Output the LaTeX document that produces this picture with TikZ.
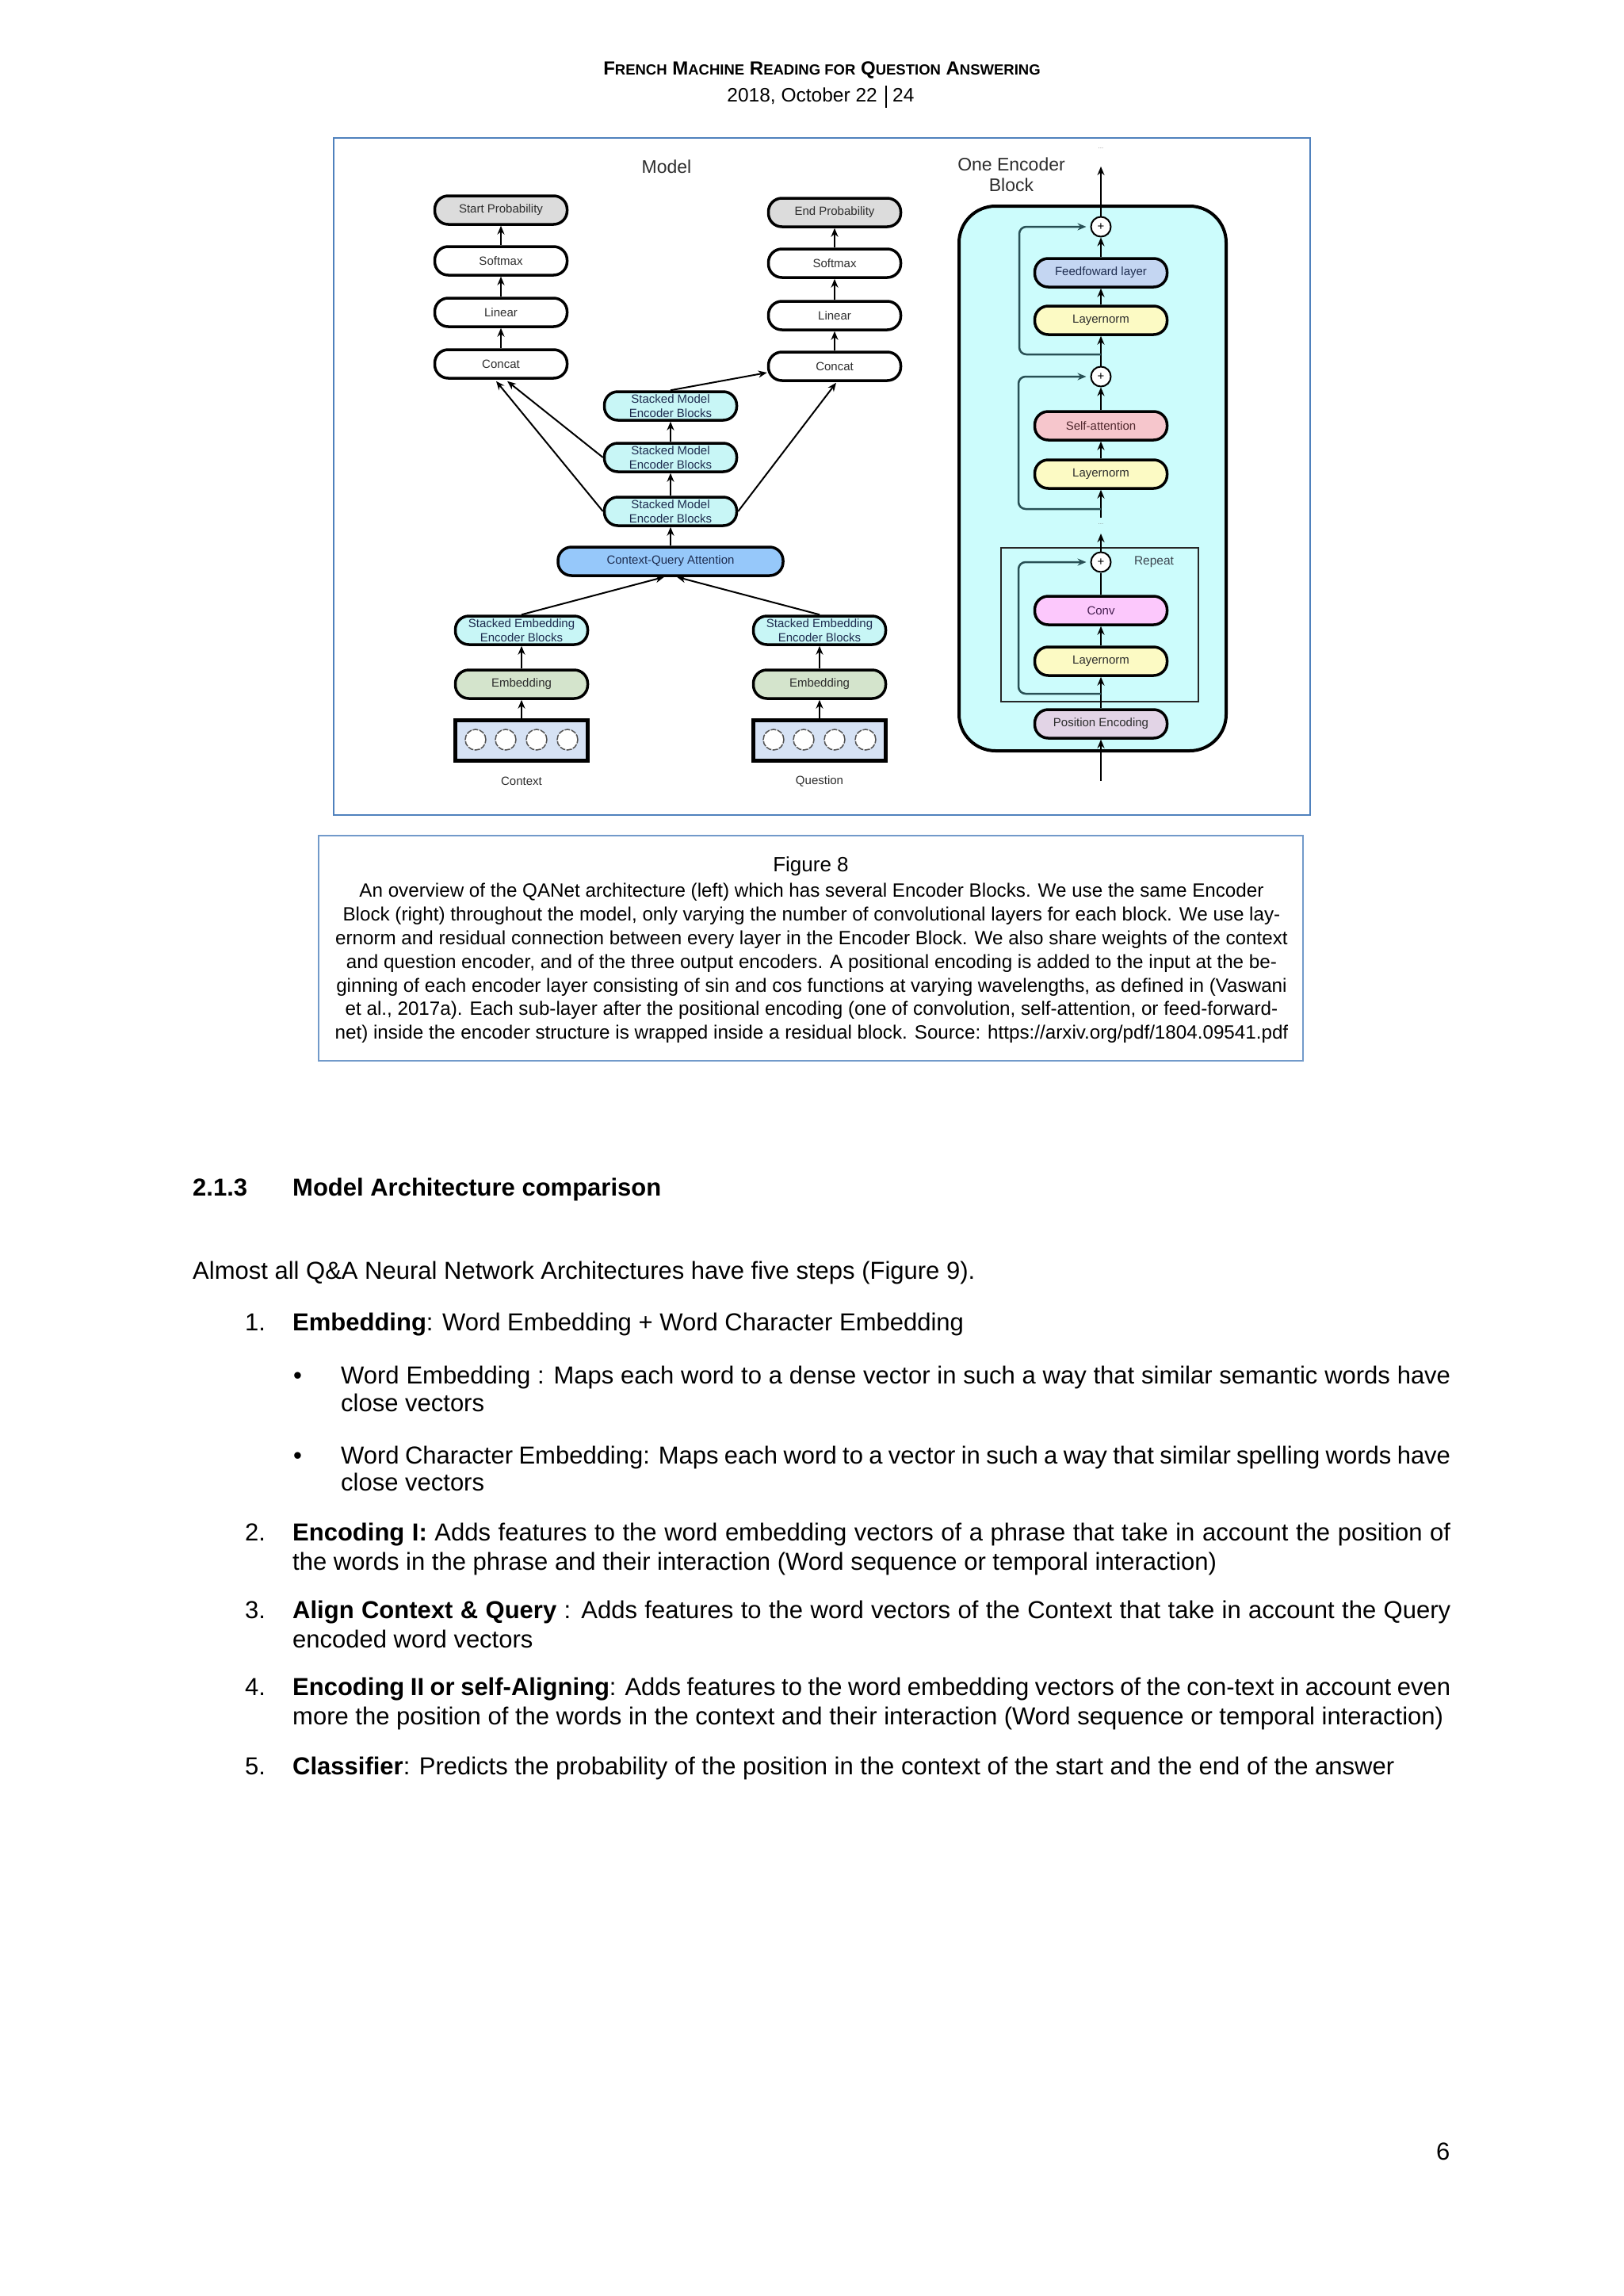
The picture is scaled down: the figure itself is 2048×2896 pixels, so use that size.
\documentclass[tikz,border=0pt]{standalone}
\usepackage{fontspec}
\setmainfont{Liberation Sans}
\usetikzlibrary{arrows.meta,calc}
\newcommand\myfs[1]{\fontsize{#1}{#1}\selectfont}
\newcommand\smcp[1]{{\myfs{18.5}#1}}
\definecolor{figblue}{RGB}{79,129,189}
\definecolor{probg}{RGB}{220,220,220}
\definecolor{cyanb}{RGB}{200,246,246}
\definecolor{cqac}{RGB}{150,200,250}
\definecolor{embc}{RGB}{212,228,204}
\definecolor{inpc}{RGB}{214,226,244}
\definecolor{blockc}{RGB}{204,252,252}
\definecolor{ffc}{RGB}{196,214,242}
\definecolor{lnc}{RGB}{252,250,196}
\definecolor{sac}{RGB}{246,198,204}
\definecolor{convc}{RGB}{252,200,252}
\definecolor{pec}{RGB}{226,212,230}
\definecolor{skipc}{RGB}{40,80,85}
\definecolor{txtc}{RGB}{45,45,45}
\definecolor{navyt}{RGB}{30,45,80}
\begin{document}
\begin{tikzpicture}[x=1pt,y=-1pt,
  blk/.style={draw=black, line width=3.5pt, rounded corners=17pt, minimum width=167pt, minimum height=36pt, inner sep=0pt, font=\myfs{15}, text=txtc, align=center},
  blk2/.style={blk, font=\fontsize{15}{18}\selectfont, text=navyt},
  arr/.style={draw=black, line width=2pt, -{Stealth[length=11pt,width=9pt]}},
  plain/.style={draw=black, line width=2pt},
  skp/.style={draw=skipc, line width=2.5pt, rounded corners=9pt, -{Stealth[length=11pt,width=9pt]}, shorten >=5pt},
  plusn/.style={circle, draw=black, line width=2pt, fill=white, minimum size=25pt, inner sep=0pt, font=\myfs{15}},
  lbl/.style={inner sep=0pt, font=\myfs{15}, text=txtc},
  inbox/.style={draw=black, line width=5pt, fill=inpc, minimum width=167pt, minimum height=51pt, inner sep=0pt},
  tok/.style={circle, draw={rgb,255:red,80;green,80;blue,80}, line width=1.5pt, dash pattern=on 7pt off 1.5pt, fill=white, minimum size=26pt, inner sep=0pt},
  body/.style={anchor=base west, inner sep=0pt, font=\myfs{31}},
  capl/.style={anchor=base, inner sep=0pt, font=\myfs{24.2}},
  dotsl/.style={inner sep=0pt, font=\myfs{8}, text=gray}
]
\useasboundingbox (0,0) rectangle (2048,2896);
\fill[white] (0,0) rectangle (2048,2896);

% ---------- header ----------
\node[anchor=base, inner sep=0pt, font=\myfs{24}] (title) at (1037,95) {\textbf{F\smcp{RENCH} M\smcp{ACHINE} R\smcp{EADING FOR} Q\smcp{UESTION} A\smcp{NSWERING}}};
\node[anchor=base east, inner sep=0pt, font=\myfs{24.5}] (date) at (1107,128) {2018, October 22};
\node[anchor=base west, inner sep=0pt, font=\myfs{24.5}] (pgn) at (1126,128) {24};
\draw[line width=1.5pt] (1118,108) -- (1118,136);

% ---------- figure frame ----------
\draw[figblue, line width=2.5pt] (421,174) rectangle (1653,1028);

% ---------- left: model ----------
\node[lbl, font=\myfs{23}] (mtitle) at (841,210) {Model};

\node[blk, fill=probg] (sp) at (632,265) {Start Probability};
\node[blk] (smL) at (632,329) {Softmax};
\node[blk] (liL) at (632,394) {Linear};
\node[blk] (coL) at (632,459) {Concat};

\node[blk, fill=probg] (ep) at (1053,268) {End Probability};
\node[blk] (smR) at (1053,332) {Softmax};
\node[blk] (liR) at (1053,398) {Linear};
\node[blk] (coR) at (1053,462) {Concat};

\node[blk2, fill=cyanb] (me1) at (846,512) {Stacked Model\\Encoder Blocks};
\node[blk2, fill=cyanb] (me2) at (846,577) {Stacked Model\\Encoder Blocks};
\node[blk2, fill=cyanb] (me3) at (846,645) {Stacked Model\\Encoder Blocks};
\node[blk, fill=cqac, minimum width=284pt, text=navyt] (cqa) at (846,708) {Context-Query Attention};

\node[blk2, fill=cyanb] (seL) at (658,795) {Stacked Embedding\\Encoder Blocks};
\node[blk2, fill=cyanb] (seR) at (1034,795) {Stacked Embedding\\Encoder Blocks};
\node[blk, fill=embc] (emL) at (658,863) {Embedding};
\node[blk, fill=embc] (emR) at (1034,863) {Embedding};

\node[inbox] (inL) at (658,934) {};
\node[inbox] (inR) at (1034,934) {};
\foreach \dx [count=\i] in {-58,-20,19,58}{
  \node[tok] (cL\i) at (658+\dx,933) {};
  \node[tok] (cR\i) at (1034+\dx,933) {};
}
\node[lbl] (ctx) at (658,985) {Context};
\node[lbl] (qst) at (1034,985) {Question};

\draw[arr] (smL.north) -- (sp.south);
\draw[arr] (liL.north) -- (smL.south);
\draw[arr] (coL.north) -- (liL.south);
\draw[arr] (smR.north) -- (ep.south);
\draw[arr] (liR.north) -- (smR.south);
\draw[arr] (coR.north) -- (liR.south);

\draw[arr] (cqa.north) -- (me3.south);
\draw[arr] (me3.north) -- (me2.south);
\draw[arr] (me2.north) -- (me1.south);
\draw[arr] (me1.north) -- ($(coR.west)+(0,8)$);
\draw[arr] (me2.west) -- ($(coL.south)+(8,2)$);
\draw[arr] (me3.west) -- ($(coL.south)+(-6,2)$);
\draw[arr] (me3.east) -- ($(coR.south)+(2,1)$);

\draw[arr] (seL.north) -- ($(cqa.south)+(-8,0)$);
\draw[arr] (seR.north) -- ($(cqa.south)+(8,0)$);
\draw[arr] (emL.north) -- (seL.south);
\draw[arr] (emR.north) -- (seR.south);
\draw[arr] (inL.north) -- (emL.south);
\draw[arr] (inR.north) -- (emR.south);

% ---------- right: one encoder block ----------
\node[lbl, font=\fontsize{23}{26}\selectfont, align=center] (etitle) at (1276,220) {One Encoder\\Block};
\draw[black, line width=4pt, fill=blockc, rounded corners=46pt] (1210,260) rectangle (1547,947);
\draw[black!85, line width=2.5pt] (1263,691) rectangle (1512,885);
\node[lbl, text={rgb,255:red,60;green,70;blue,80}, font=\myfs{15.5}] (rep) at (1456,709) {Repeat};

\node[plusn] (c1) at (1389,286) {+};
\node[blk, fill=ffc, text=navyt] (ff) at (1389,344) {Feedfoward layer};
\node[blk, fill=lnc] (ln1) at (1389,404) {Layernorm};
\node[plusn] (c2) at (1389,475) {+};
\node[blk, fill=sac, text={rgb,255:red,80;green,40;blue,45}] (sa) at (1389,537) {Self-attention};
\node[blk, fill=lnc] (ln2) at (1389,598) {Layernorm};
\node[dotsl] (dd2) at (1389,661) {...};
\node[plusn] (c3) at (1389,709) {+};
\node[blk, fill=convc, text={rgb,255:red,70;green,30;blue,80}] (conv) at (1389,770) {Conv};
\node[blk, fill=lnc] (ln3) at (1389,834) {Layernorm};
\node[blk, fill=pec] (pe) at (1389,913) {Position Encoding};
\node[dotsl] (dd1) at (1389,187) {...};

\coordinate (topout) at (1389,210);
\coordinate (m2) at (1389,653);
\coordinate (m3) at (1389,673);
\coordinate (inp) at (1389,985);
\coordinate (b1) at (1389,447);
\coordinate (b2) at (1389,642);
\coordinate (b3) at (1389,875);

\draw[arr] (c1.north) -- (topout);
\draw[arr] (ff.north) -- (c1.south);
\draw[arr] (ln1.north) -- (ff.south);
\draw[arr] (c2.north) -- (ln1.south);
\draw[arr] (sa.north) -- (c2.south);
\draw[arr] (ln2.north) -- (sa.south);
\draw[arr] (m2) -- (ln2.south);
\draw[arr] (c3.north) -- (m3);
\draw[plain] (conv.north) -- (c3.south);
\draw[arr] (ln3.north) -- (conv.south);
\draw[arr] (pe.north) -- (ln3.south);
\draw[arr] (inp) -- (pe.south);

\draw[skp] (b1) -- (1286,447) -- (1286,286) -- (c1.west);
\draw[skp] (b2) -- (1285,642) -- (1285,475) -- (c2.west);
\draw[skp] (b3) -- (1285,875) -- (1285,709) -- (c3.west);

% ---------- caption ----------
\draw[figblue!80, line width=2.5pt, fill=white] (402,1054) rectangle (1644,1338);
\node[anchor=base, inner sep=0pt, font=\myfs{26}] (figt) at (1023,1099) {Figure 8};
\node[capl] (cap1) at (1024,1131) {An overview of the QANet architecture (left) which has several Encoder Blocks. We use the same Encoder};
\node[capl] (cap2) at (1024,1161) {Block (right) throughout the model, only varying the number of convolutional layers for each block. We use lay-};
\node[capl] (cap3) at (1024,1191) {ernorm and residual connection between every layer in the Encoder Block. We also share weights of the context};
\node[capl] (cap4) at (1024,1221) {and question encoder, and of the three output encoders. A positional encoding is added to the input at the be-};
\node[capl] (cap5) at (1024,1251) {ginning of each encoder layer consisting of sin and cos functions at varying wavelengths, as defined in (Vaswani};
\node[capl] (cap6) at (1024,1280) {et al., 2017a). Each sub-layer after the positional encoding (one of convolution, self-attention, or feed-forward-};
\node[capl] (cap7) at (1024,1310) {net) inside the encoder structure is wrapped inside a residual block. Source: https://arxiv.org/pdf/1804.09541.pdf};

% ---------- body text ----------
\node[body] (h1) at (243,1508) {\textbf{2.1.3}};
\node[body] (h2) at (369,1508) {\textbf{Model Architecture comparison}};
\node[body] (p0) at (243,1613) {Almost all Q\&A Neural Network Architectures have five steps (Figure 9).};
\node[body] (n1) at (309,1678) {1.};
\node[body] (t1) at (369,1678) {\textbf{Embedding}: Word Embedding + Word Character Embedding};
\node[body] (bu1) at (370,1745) {•};
\node[body] (b1a) at (430,1745) {\makebox[1400pt][s]{Word Embedding : Maps each word to a dense vector in such a way that similar semantic words have}};
\node[body] (b1b) at (430,1780) {close vectors};
\node[body] (bu2) at (370,1846) {•};
\node[body] (b2a) at (430,1846) {\makebox[1400pt][s]{Word Character Embedding: Maps each word to a vector in such a way that similar spelling words have}};
\node[body] (b2b) at (430,1880) {close vectors};
\node[body] (n2) at (309,1943) {2.};
\node[body] (t2a) at (369,1943) {\makebox[1461pt][s]{\textbf{Encoding I:} Adds features to the word embedding vectors of a phrase that take in account the position of}};
\node[body] (t2b) at (369,1980) {the words in the phrase and their interaction (Word sequence or temporal interaction)};
\node[body] (n3) at (309,2041) {3.};
\node[body] (t3a) at (369,2041) {\makebox[1461pt][s]{\textbf{Align Context \& Query} : Adds features to the word vectors of the Context that take in account the Query}};
\node[body] (t3b) at (369,2078) {encoded word vectors};
\node[body] (n4) at (309,2138) {4.};
\node[body] (t4a) at (369,2138) {\makebox[1461pt][s]{\textbf{Encoding II or self-Aligning}: Adds features to the word embedding vectors of the con-text in account even}};
\node[body] (t4b) at (369,2175) {more the position of the words in the context and their interaction (Word sequence or temporal interaction)};
\node[body] (n5) at (309,2238) {5.};
\node[body] (t5) at (369,2238) {\textbf{Classifier}: Predicts the probability of the position in the context of the start and the end of the answer};
\node[body] (pnum) at (1812,2724) {6};
\end{tikzpicture}
\end{document}
